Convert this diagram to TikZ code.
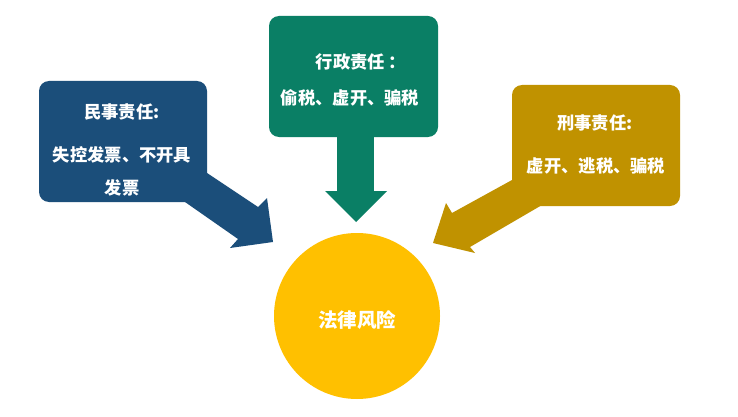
\documentclass[tikz,border=0pt]{standalone}
\usepackage{fontspec}
\newfontfamily\cjk{Noto Sans CJK SC}
\definecolor{cblue}{HTML}{1B4E7A}
\definecolor{cgreen}{HTML}{0A7F65}
\definecolor{cgold}{HTML}{C09200}
\definecolor{cyellow}{HTML}{FFC000}
\tikzset{
  lbl/.style={text=white, font=\cjk\bfseries\fontsize{17.3}{19}\selectfont, inner sep=0pt},
}
\begin{document}
\begin{tikzpicture}[x=1pt,y=-1pt]
\useasboundingbox[fill=white] (0,0) rectangle (738,417);
% blue box and arrow
\fill[cblue, rounded corners=10pt] (39,81) rectangle (207,202);
\fill[cblue] (195,165) -- (207,173) -- (258,207) -- (267,198) -- (273,242) -- (230,248) -- (238,239) -- (185,202) -- (180,190) -- cycle;
\node[lbl] (b1) at (122,112) {民事责任:};
\node[lbl] (b2) at (122,155) {失控发票、不开具};
\node[lbl] (b3) at (122,188) {发票};
% green box and arrow
\fill[cgreen, rounded corners=10pt] (269,16) rectangle (438,137);
\fill[cgreen] (337,130) rectangle (374,192);
\fill[cgreen] (325,191) -- (387,191) -- (356,222) -- cycle;
\node[lbl] (g1) at (361,62) {行政责任 ：};
\node[lbl] (g2) at (350,98) {偷税、虚开、骗税};
% gold box and arrow
\fill[cgold, rounded corners=10pt] (512,85) rectangle (680,206);
\fill[cgold] (522,170) -- (512,180) -- (452,213) -- (446,203) -- (433,243) -- (475,253) -- (470,247) -- (542,205) -- (545,195) -- cycle;
\node[lbl] (o1) at (595,123) {刑事责任:};
\node[lbl] (o2) at (596,166) {虚开、逃税、骗税};
% circle
\node[circle, fill=cyellow, minimum size=166pt, inner sep=0pt] (c) at (357,316) {};
\node[lbl, font=\cjk\bfseries\fontsize{19.5}{21}\selectfont] (ct) at (c) [yshift=-4pt] {法律风险};
\end{tikzpicture}
\end{document}
